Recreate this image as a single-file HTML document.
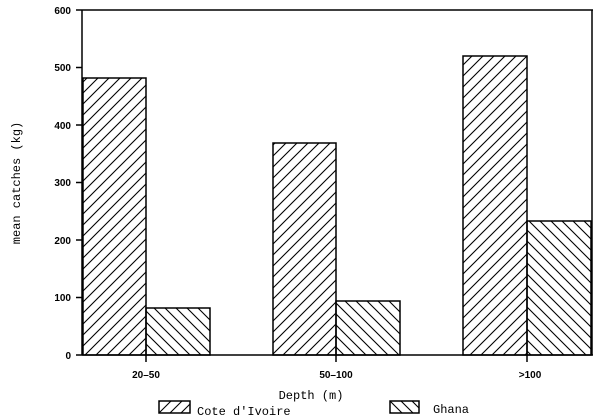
<!DOCTYPE html>
<html><head><meta charset="utf-8"><style>
html,body{margin:0;padding:0;background:#fff;}
svg{display:block;}
</style></head><body>
<svg width="600" height="420" viewBox="0 0 600 420" xmlns="http://www.w3.org/2000/svg">
<defs>
<pattern id="fwd" patternUnits="userSpaceOnUse" width="11" height="11">
<path d="M-1,12 L12,-1 M-4,4 L4,-4 M7,15 L15,7" stroke="#000" stroke-width="1.1"/>
</pattern>
<pattern id="bwd" patternUnits="userSpaceOnUse" width="11" height="11">
<path d="M-1,-1 L12,12 M-4,7 L4,15 M7,-4 L15,4" stroke="#000" stroke-width="1.1"/>
</pattern>
</defs>
<g fill="none" stroke="#000" stroke-width="1.5">
<line x1="82" y1="10" x2="593" y2="10"/>
<line x1="82" y1="10" x2="82" y2="355"/>
<line x1="592" y1="10" x2="592" y2="355"/>
<line x1="76" y1="355" x2="593" y2="355"/>
<line x1="76" y1="10" x2="82" y2="10"/>
<line x1="76" y1="67.5" x2="82" y2="67.5"/>
<line x1="76" y1="125" x2="82" y2="125"/>
<line x1="76" y1="182.5" x2="82" y2="182.5"/>
<line x1="76" y1="240" x2="82" y2="240"/>
<line x1="76" y1="297.5" x2="82" y2="297.5"/>
<line x1="146" y1="355" x2="146" y2="362"/>
<line x1="336" y1="355" x2="336" y2="362"/>
<line x1="527" y1="355" x2="527" y2="362"/>
</g>
<g stroke="#000" stroke-width="1.5">
<rect x="83" y="78" width="63" height="277" fill="url(#fwd)"/>
<rect x="146" y="308" width="64" height="47" fill="url(#bwd)"/>
<rect x="273" y="143" width="63" height="212" fill="url(#fwd)"/>
<rect x="336" y="301" width="64" height="54" fill="url(#bwd)"/>
<rect x="463" y="56" width="64" height="299" fill="url(#fwd)"/>
<rect x="527" y="221" width="64" height="134" fill="url(#bwd)"/>
<rect x="159" y="401" width="31" height="12" fill="url(#fwd)"/>
<rect x="390" y="401" width="29" height="12" fill="url(#bwd)"/>
</g>
<g font-family="Liberation Sans, sans-serif" font-weight="bold" font-size="10" text-anchor="end">
<text x="71" y="14">600</text>
<text x="71" y="71">500</text>
<text x="71" y="129">400</text>
<text x="71" y="186">300</text>
<text x="71" y="244">200</text>
<text x="71" y="301">100</text>
<text x="71" y="359">0</text>
</g>
<g font-family="Liberation Sans, sans-serif" font-weight="bold" font-size="10" text-anchor="middle">
<text x="146" y="378">20–50</text>
<text x="336" y="378">50–100</text>
<text x="530" y="378">&gt;100</text>
</g>
<g font-family="Liberation Mono, monospace" font-size="12" fill="#000">
<text x="311" y="399" text-anchor="middle">Depth (m)</text>
<text x="197" y="415">Cote d'Ivoire</text>
<text x="433" y="413">Ghana</text>
<text transform="translate(20,183) rotate(-90)" text-anchor="middle">mean catches (kg)</text>
</g>
</svg>
</body></html>
